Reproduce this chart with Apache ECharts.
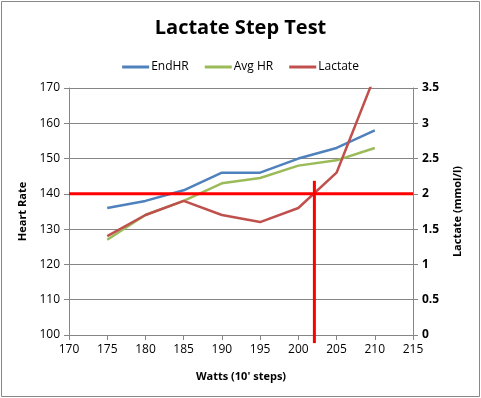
<!DOCTYPE html>
<html><head><meta charset="utf-8">
<script src="https://cdn.jsdelivr.net/npm/echarts@6/dist/echarts.min.js"></script>
<style>html,body{margin:0;padding:0;background:#fff}#c{width:481px;height:398px}</style>
</head><body><div id="c"></div>
<script>
var watts = [175, 180, 185, 190, 195, 200, 205, 210];
var endHR = [136, 138, 141, 146, 146, 150, 153, 158];
var avgHR = [127, 134, 138, 143, 144.5, 148, 149.5, 153];
var lactate = [1.4, 1.7, 1.9, 1.7, 1.6, 1.8, 2.3, 3.67];
var thresholdLactate = 2;
var thresholdWatts = 202.1;
var vlineTopHR = 143.7, vlineBottomHR = 97.7;
var xTicks = {min: 170, max: 215, interval: 5};
var hrTicks = {min: 100, max: 170, interval: 10};
var lacTicks = {min: 0, max: 3.5, interval: 0.5};

function pairs(xs, ys){ return xs.map(function(x,i){return [x, ys[i]];}); }

var font = '"Open Sans", "Liberation Sans", sans-serif';
var chart = echarts.init(document.getElementById('c'));
chart.setOption({
  animation: false,
  textStyle: {fontFamily: font},
  title: {text: 'Lactate Step Test', left: 'center', top: 13,
    textStyle: {fontSize: 20, fontWeight: 'bold', color: '#000', fontFamily: font}},
  legend: {top: 56, left: 'center', itemWidth: 27, itemHeight: 3, itemGap: 16,
    icon: 'rect', textStyle: {fontSize: 12, color: '#000', padding: [0, 0, 0, -3]},
    data: ['EndHR', 'Avg HR', 'Lactate']},
  grid: {left: 69, right: 68, top: 88, bottom: 63},
  graphic: [{type: 'rect', shape: {x: 1.5, y: 1.5, width: 478, height: 395},
    style: {fill: null, stroke: '#888', lineWidth: 1}, silent: true}],
  xAxis: {type: 'value', min: xTicks.min, max: xTicks.max, interval: xTicks.interval,
    name: "Watts (10' steps)", nameLocation: 'middle', nameGap: 36,
    nameTextStyle: {fontSize: 11, fontWeight: 'bold', color: '#000'},
    axisLine: {lineStyle: {color: '#868686'}},
    axisTick: {show: true, length: 5, lineStyle: {color: '#868686'}},
    axisLabel: {fontSize: 12, color: '#000', margin: 9},
    splitLine: {show: false}},
  yAxis: [
    {type: 'value', min: hrTicks.min, max: hrTicks.max, interval: hrTicks.interval,
      position: 'left', name: 'Heart Rate', nameLocation: 'middle', nameGap: 37, nameRotate: 90,
      nameTextStyle: {fontSize: 11, fontWeight: 'bold', color: '#000'},
      axisLine: {show: true, lineStyle: {color: '#868686'}},
      axisTick: {show: true, length: 5, lineStyle: {color: '#868686'}},
      axisLabel: {fontSize: 12, color: '#000', margin: 9},
      splitLine: {show: true, lineStyle: {color: '#868686', width: 1}}},
    {type: 'value', min: lacTicks.min, max: lacTicks.max, interval: lacTicks.interval,
      position: 'right', name: 'Lactate (mmol/l)', nameLocation: 'middle', nameGap: 39, nameRotate: 90,
      nameTextStyle: {fontSize: 11, fontWeight: 'bold', color: '#000'},
      axisLine: {show: true, lineStyle: {color: '#868686'}},
      axisTick: {show: true, length: 5, lineStyle: {color: '#868686'}},
      axisLabel: {fontSize: 12, color: '#000', fontWeight: 'bold', margin: 9},
      splitLine: {show: false}}
  ],
  series: [
    {name: 'EndHR', type: 'line', data: pairs(watts, endHR), yAxisIndex: 0,
      showSymbol: false, symbol: 'none', color: '#4F81BD', lineStyle: {width: 2.5, color: '#4F81BD'}},
    {name: 'Avg HR', type: 'line', data: pairs(watts, avgHR), yAxisIndex: 0,
      showSymbol: false, symbol: 'none', color: '#9BBB59', lineStyle: {width: 2.5, color: '#9BBB59'}},
    {name: 'Lactate', type: 'line', data: pairs(watts, lactate), yAxisIndex: 1, clip: true,
      showSymbol: false, symbol: 'none', color: '#C0504D', lineStyle: {width: 2.5, color: '#C0504D'}},
    {name: 'thrH', type: 'line', yAxisIndex: 1, symbol: 'none',
      data: [[xTicks.min, thresholdLactate], [xTicks.max, thresholdLactate]],
      lineStyle: {width: 3, color: '#FF0000'}, silent: true},
    {name: 'thrV', type: 'line', yAxisIndex: 0, symbol: 'none', clip: false,
      data: [[thresholdWatts, vlineTopHR], [thresholdWatts, vlineBottomHR]],
      lineStyle: {width: 3, color: '#FF0000'}, silent: true}
  ]
});
</script></body></html>
